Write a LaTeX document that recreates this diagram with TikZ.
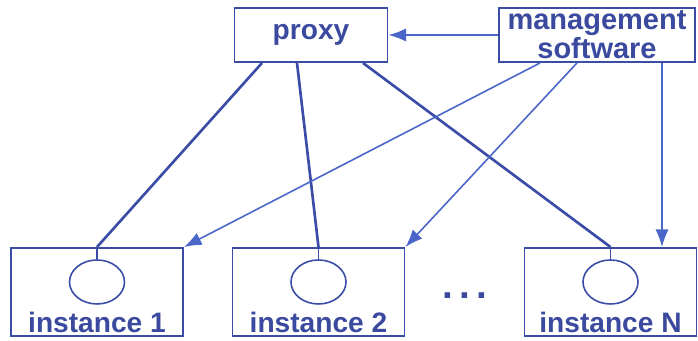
\documentclass[tikz,border=0pt]{standalone}
\usepackage{fontspec}
\setmainfont{Liberation Sans}
\usetikzlibrary{arrows.meta,positioning,calc,shapes.geometric}
\definecolor{pxline}{HTML}{3A4CA6}
\definecolor{pxtext}{HTML}{3B4A9E}
\definecolor{pxarrow}{HTML}{4A66C8}

\begin{document}
\begin{tikzpicture}[
  font=\fontsize{16}{17}\selectfont\bfseries,
  box/.style={draw=pxline, line width=1.1pt, fill=white, text=pxtext,
              align=center, inner sep=0pt},
  inst/.style={box, minimum width=34.4mm, minimum height=17.6mm},
  slot/.style={draw=pxline, line width=0.9pt, ellipse,
               minimum width=11mm, minimum height=8.8mm, inner sep=0pt},
  lbl/.style={text=pxtext, inner sep=0pt},
  link/.style={pxline, line width=1.5pt},
  ctl/.style={pxarrow, line width=0.9pt, -{Latex[length=10pt,width=7.5pt]}},
]
\useasboundingbox (0,0) rectangle (13.96,6.82);

% ---------------- top row -------------------------------------------
\node[box, minimum width=30.6mm, minimum height=10.8mm] (proxy) at (6.22,6.12) {proxy};
\node[box, minimum width=39.2mm, minimum height=10.8mm, font=\fontsize{16.5}{15}\selectfont\bfseries]
  (mgmt) at (11.94,6.12) {management\\software};

% ---------------- instances -----------------------------------------
\foreach \i/\x/\t in {1/1.94/instance 1, 2/6.37/instance 2, N/12.21/instance N} {
  \node[inst] (inst\i) at (\x,0.98) {};
  \node[slot] (c\i) at (\x,1.18) {};
  \node[lbl] (t\i) at (\x,0.38) {\t};
  \draw[pxline, line width=0.9pt] (c\i.north) -- (c\i.north |- inst\i.north);
}
\node[lbl, font=\fontsize{22}{22}\selectfont\bfseries] (dots) at (9.3,0.9) {.\,.\,.};

% ---------------- proxy to instances --------------------------------
\draw[link] ($(proxy.south)+(-0.98,0)$) -- (c1.north |- inst1.north);
\draw[link] ($(proxy.south)+(-0.28,0)$) -- (c2.north |- inst2.north);
\draw[link] ($(proxy.south)+(1.04,0)$) -- (cN.north |- instN.north);

% ---------------- management arrows ---------------------------------
\draw[ctl] (mgmt.west) -- (proxy.east);
\draw[ctl] ($(mgmt.south)+(-1.14,0)$) -- (inst1.north east);
\draw[ctl] ($(mgmt.south)+(-0.4,0)$) -- (inst2.north east);
\draw[ctl] ($(mgmt.south)+(1.3,0)$) -- ($(instN.north)+(1.03,0)$);

\end{tikzpicture}
\end{document}
